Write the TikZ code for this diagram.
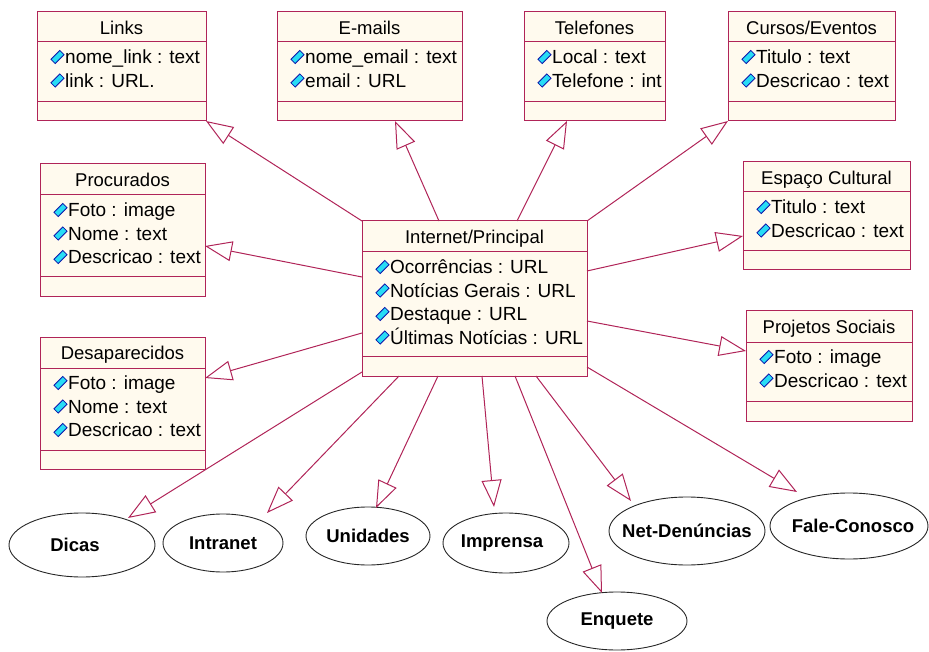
\documentclass[tikz,border=0pt]{standalone}
\usepackage{fontspec}
\setmainfont{Liberation Sans}
\usetikzlibrary{arrows.meta,shapes.geometric}

\definecolor{umlred}{RGB}{176,36,88}
\definecolor{umlfill}{RGB}{255,250,238}
\definecolor{iconfill}{RGB}{40,220,245}
\definecolor{iconline}{RGB}{10,20,170}

\tikzset{
  classbox/.style={draw=umlred, fill=umlfill, line width=1pt, inner sep=0pt, outer sep=0pt},
  classline/.style={draw=umlred, line width=1pt},
  classtitle/.style={anchor=base, inner sep=0pt, font=\fontsize{18.5}{22}\selectfont},
  attrtext/.style={anchor=base west, inner sep=0pt, font=\fontsize{19}{23}\selectfont},
  attricon/.style={draw=iconline, fill=iconfill, line width=0.8pt, minimum width=12.5pt,
    minimum height=6pt, inner sep=0pt, rotate=45},
  usecase/.style={ellipse, draw=black!85, line width=0.9pt, inner sep=0pt,
    font=\bfseries\fontsize{18.5}{22}\selectfont},
  gen/.style={draw=umlred, line width=1pt, -{Triangle[open, length=27pt, width=20pt]}},
}

% UML class: name, left, top, right, title rule, attribute rule, bottom, title, attributes
\newcommand\umlclass[9]{%
  \node[classbox, minimum width={#4-#2}, minimum height={#7-#3}]
    (#1) at ({(#2+#4)/2},{(#3+#7)/2}) {};
  \draw[classline] (#2,#5) -- (#4,#5) (#2,#6) -- (#4,#6);
  \node[classtitle] at ({(#2+#4)/2},{(#3+#5)/2+7.2}) {#8};
  \foreach \attrname [count=\attrno] in {#9} {
    \node[attricon] at ({#2+20.5},{#5+15+(\attrno-1)*23.5}) {};
    \node[attrtext] at ({#2+28},{#5+15+(\attrno-1)*23.5+6.8}) {\attrname};
  }%
}
% label of a use case, kept out of the ellipse sizing
\newcommand\caselabel[1]{\makebox[0pt]{#1}}

\begin{document}
\begin{tikzpicture}[x=1pt,y=-1pt]
\useasboundingbox (0,0) rectangle (929,652);

% classes
\umlclass{links}{37}{12}{206}{42}{102}{121}{Links}{{nome\_link : text},{link : URL.}}
\umlclass{emails}{277}{12}{462}{42}{102}{121}{E-mails}{{nome\_email : text},{email : URL}}
\umlclass{phones}{524}{12}{665}{42}{102}{121}{Telefones}{{Local : text},{Telefone : int}}
\umlclass{events}{728}{12}{895}{42}{102}{121}{Cursos/Eventos}{{Titulo : text},{Descricao : text}}
\umlclass{wanted}{40}{164}{205}{195}{277}{297}{Procurados}{{Foto : image},{Nome : text},{Descricao : text}}
\umlclass{missing}{40}{337}{205}{368}{450}{469}{Desaparecidos}{{Foto : image},{Nome : text},{Descricao : text}}
\umlclass{main}{362}{221}{587}{252}{356}{376}{Internet/Principal}{{Ocorrências : URL},{Notícias Gerais : URL},{Destaque : URL},{Últimas Notícias : URL}}
\umlclass{culture}{743}{162}{910}{192}{251}{270}{Espaço Cultural}{{Titulo : text},{Descricao : text}}
\umlclass{social}{746}{311}{912}{342}{401}{421}{Projetos Sociais}{{Foto : image},{Descricao : text}}

% use cases
\node[usecase, minimum width=146pt, minimum height=64pt] (dicas) at (82,545) {\caselabel{\hspace*{-14pt}Dicas}};
\node[usecase, minimum width=120pt, minimum height=58pt] (intranet) at (223,543) {\caselabel{Intranet}};
\node[usecase, minimum width=124pt, minimum height=58pt] (unidades) at (368,536) {\caselabel{Unidades}};
\node[usecase, minimum width=126pt, minimum height=60pt] (imprensa) at (506,543) {\caselabel{\hspace*{-8pt}Imprensa}};
\node[usecase, minimum width=140pt, minimum height=58pt] (enquete) at (617,621) {\caselabel{Enquete}};
\node[usecase, minimum width=156pt, minimum height=68pt] (denuncias) at (687,531) {\caselabel{Net-Denúncias}};
\node[usecase, minimum width=158pt, minimum height=66pt] (fale) at (849,526) {\caselabel{\hspace*{8pt}Fale-Conosco}};

% connector ends on the main class
\coordinate (s-emails) at (439,221);
\coordinate (s-phones) at (517,221);
\coordinate (s-wanted) at (362,277);
\coordinate (s-missing) at (362,333);
\coordinate (s-culture) at (587,271);
\coordinate (s-social) at (587,321);
\coordinate (s-dicas) at (362,372);
\coordinate (s-intranet) at (399,376);
\coordinate (s-unidades) at (438,376);
\coordinate (s-imprensa) at (482,376);
\coordinate (s-enquete) at (515,376);
\coordinate (s-denuncias) at (536,376);
\coordinate (s-fale) at (587,367);

% connector ends on the other elements
\coordinate (t-emails) at (395,121);
\coordinate (t-phones) at (567,121);
\coordinate (t-wanted) at (205,246);
\coordinate (t-missing) at (205,378);
\coordinate (t-culture) at (743,236);
\coordinate (t-social) at (746,351);
\coordinate (t-dicas) at (128,518);
\coordinate (t-intranet) at (267,513);
\coordinate (t-unidades) at (376,508);
\coordinate (t-imprensa) at (494,507);
\coordinate (t-enquete) at (602,593);
\coordinate (t-denuncias) at (631,501);
\coordinate (t-fale) at (797,492);

% generalisations
\draw[gen] (main.north west) -- (links.south east);
\draw[gen] (s-emails) -- (t-emails);
\draw[gen] (s-phones) -- (t-phones);
\draw[gen] (main.north east) -- (events.south west);
\draw[gen] (s-wanted) -- (t-wanted);
\draw[gen] (s-missing) -- (t-missing);
\draw[gen] (s-culture) -- (t-culture);
\draw[gen] (s-social) -- (t-social);
\draw[gen] (s-dicas) -- (t-dicas);
\draw[gen] (s-intranet) -- (t-intranet);
\draw[gen] (s-unidades) -- (t-unidades);
\draw[gen] (s-imprensa) -- (t-imprensa);
\draw[gen] (s-enquete) -- (t-enquete);
\draw[gen] (s-denuncias) -- (t-denuncias);
\draw[gen] (s-fale) -- (t-fale);
\end{tikzpicture}
\end{document}
